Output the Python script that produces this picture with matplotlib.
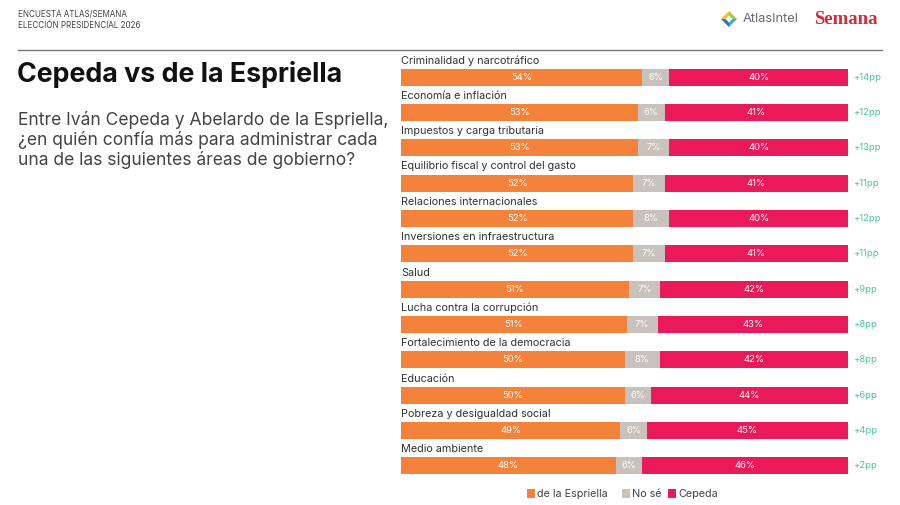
import matplotlib
matplotlib.use("Agg")
from matplotlib import pyplot as plt
from matplotlib.patches import Rectangle, Polygon
import numpy as np

# datos de la encuesta
areas = ["Criminalidad y narcotráfico", "Economía e inflación", "Impuestos y carga tributaria",
         "Equilibrio fiscal y control del gasto", "Relaciones internacionales",
         "Inversiones en infraestructura", "Salud", "Lucha contra la corrupción",
         "Fortalecimiento de la democracia", "Educación", "Pobreza y desigualdad social",
         "Medio ambiente"]
espriella = [54, 53, 53, 52, 52, 52, 51, 51, 50, 50, 49, 48]
no_se = [6, 6, 7, 7, 8, 7, 7, 7, 8, 6, 6, 6]
cepeda = [40, 41, 40, 41, 40, 41, 42, 43, 42, 44, 45, 46]
ventaja = ["+14pp", "+12pp", "+13pp", "+11pp", "+12pp", "+11pp", "+9pp", "+8pp",
           "+8pp", "+6pp", "+4pp", "+2pp"]

ORANGE = "#F4823A"
GREY = "#C9C1BB"
PINK = "#E9195A"
GREEN = "#4FC3A1"

plt.rcParams['font.family'] = ['Inter', 'DejaVu Sans']

fig = plt.figure(figsize=(9, 5.05), dpi=100)
W, H = 900, 505

def fx(px):
    return px / W

def fy(py):
    return 1 - py / H

# encabezado
fig.text(fx(18), fy(14), "ENCUESTA ATLAS/SEMANA", fontsize=5.8, color="#444444", va="center")
fig.text(fx(18), fy(26), "ELECCIÓN PRESIDENCIAL 2026", fontsize=5.8, color="#444444", va="center")
fig.add_artist(plt.Line2D([fx(18), fx(882)], [fy(50), fy(50)], color="#777777", lw=1.0))

# logos
cx, cy = fx(729), fy(19)
icon_cols = ["#9ACD4A", "#3FA9D6", "#2E6FB5", "#F2C230"]
r = 8
pts = [(0, r), (r, 0), (0, -r), (-r, 0)]
for k in range(4):
    a = pts[k]
    b = pts[(k + 1) % 4]
    tri = Polygon([(cx, cy), (cx + a[0] / W, cy + a[1] / H), (cx + b[0] / W, cy + b[1] / H)],
                  closed=True, transform=fig.transFigure, color=icon_cols[k], lw=0)
    fig.add_artist(tri)
fig.add_artist(Polygon([(cx, cy + 3.5 / H), (cx + 3.5 / W, cy), (cx, cy - 3.5 / H), (cx - 3.5 / W, cy)],
                       closed=True, transform=fig.transFigure, color="white", lw=0))
fig.text(fx(743), fy(19), "AtlasIntel", fontsize=9.3, color="#6b6b6b", va="center")
fig.text(fx(814), fy(19), "Semana", fontsize=13.5, color="#D42A3C", va="center",
         family="Liberation Serif", weight="bold")

# titulo y pregunta
fig.text(fx(17), fy(74), "Cepeda vs de la Espriella", fontsize=19.3, weight="bold",
         color="#111111", va="center")
fig.text(fx(18), fy(140),
         "Entre Iván Cepeda y Abelardo de la Espriella,\n¿en quién confía más para administrar cada\nuna de las siguientes áreas de gobierno?",
         fontsize=12.6, color="#444444", va="center", linespacing=1.12)

# barras
ax = fig.add_axes([fx(401), fy(480), fx(848) - fx(401), (480 - 50) / H])
n = len(areas)
y = np.arange(n)
e = np.array(espriella, dtype=float)
g = np.array(no_se, dtype=float)
c = np.array(cepeda, dtype=float)
tot = e + g + c
e_n = e / tot * 100
g_n = g / tot * 100
c_n = c / tot * 100
h = 17 / 35.36
ax.barh(y, e_n, height=h, color=ORANGE, lw=0)
ax.barh(y, g_n, left=e_n, height=h, color=GREY, lw=0)
ax.barh(y, c_n, left=e_n + g_n, height=h, color=PINK, lw=0)
for i in range(n):
    ax.text(e_n[i] / 2, i, f"{espriella[i]}%", color="white", fontsize=6.8, ha="center", va="center")
    ax.text(e_n[i] + g_n[i] / 2, i, f"{no_se[i]}%", color="white", fontsize=6.8, ha="center", va="center")
    ax.text(e_n[i] + g_n[i] + c_n[i] / 2, i, f"{cepeda[i]}%", color="white", fontsize=6.8,
            ha="center", va="center")
    ax.text(0, i - 0.47, areas[i], color="#333333", fontsize=7.8, ha="left", va="center")
    ax.text(101.2, i, ventaja[i], color=GREEN, fontsize=6.8, ha="left", va="center")
ax.set_xlim(0, 100)
ax.set_ylim(-0.764 + 12.16, -0.764)
ax.axis("off")

# leyenda
items = [("de la Espriella", ORANGE, 527), ("No sé", GREY, 622), ("Cepeda", PINK, 668)]
for lab, col, px in items:
    fig.add_artist(Rectangle((fx(px), fy(498)), 8 / W, 9 / H, transform=fig.transFigure,
                             color=col, lw=0))
    fig.text(fx(px + 10), fy(494), lab, fontsize=7.8, color="#444444", va="center")

fig.savefig("out.png", dpi=100, facecolor="white")
